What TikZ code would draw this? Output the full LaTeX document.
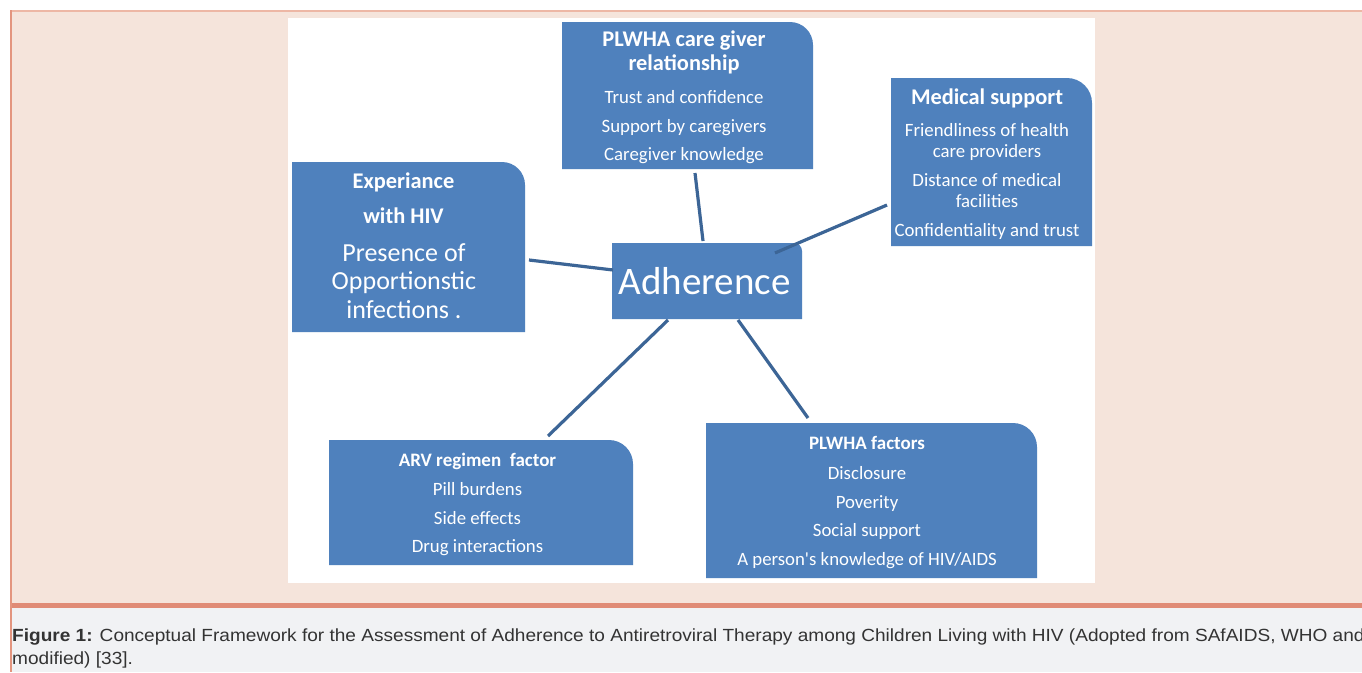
\documentclass[tikz,border=0pt]{standalone}
\usepackage{fontspec}
\usepackage{graphicx}
\setmainfont{Carlito}
\newfontfamily\capfont{Liberation Sans}
\usetikzlibrary{calc}
\definecolor{panelpink}{HTML}{F5E4DB}
\definecolor{panelline}{HTML}{EDB7A5}
\definecolor{leftline}{HTML}{E3957F}
\definecolor{bandorange}{HTML}{E08B76}
\definecolor{capgray}{HTML}{F1F2F4}
\definecolor{boxblue}{HTML}{4F81BD}
\definecolor{linkblue}{HTML}{3C6596}
\definecolor{captext}{HTML}{333333}
\newcommand\trbox[2]{%
  \fill[boxblue] (#1.south west) -- (#1.north west) -- ([xshift=-#2pt]#1.north east)
    arc[start angle=90,end angle=0,radius=#2pt] -- (#1.south east) -- cycle;}
\begin{document}
\begin{tikzpicture}[x=1pt,y=-1pt,
  holder/.style={inner sep=0pt,outer sep=0pt,minimum width=#1},
  txt/.style={text=white,inner sep=0pt,anchor=base,yshift=-1.5pt},
  ttl/.style={txt,font=\fontsize{22.4}{26}\selectfont\bfseries},
  sttl/.style={txt,font=\fontsize{19}{23}\selectfont\bfseries},
  bdy/.style={txt,font=\fontsize{18.8}{22}\selectfont},
  link/.style={draw=linkblue,line width=3.2pt},
  captxt/.style={anchor=base west,inner sep=0pt,text=captext,font=\capfont\fontsize{17.6}{20}\selectfont}]
\useasboundingbox (0,0) rectangle (1362,672);
\clip (0,0) rectangle (1362,672);
% page background
\fill[white] (0,0) rectangle (1362,672);
\fill[panelpink] (10,10) rectangle (1362,603);
\fill[capgray] (10,608) rectangle (1362,672);
\fill[bandorange] (10,603) rectangle (1362,608);
\draw[panelline,line width=1.5pt] (10,10.75) -- (1362,10.75);
\draw[leftline,line width=1.5pt] (10.75,10) -- (10.75,672);
\fill[white] (288,18) rectangle (1095,583);
% box holders
\node[holder=233pt,minimum height=170pt] (exp) at (408.5,247) {};
\node[holder=251pt,minimum height=147pt] (care) at (687.5,95.5) {};
\node[holder=201pt,minimum height=168pt] (med) at (991.5,162) {};
\node[holder=190pt,minimum height=76pt] (adh) at (707,281) {};
\node[holder=304pt,minimum height=125pt] (arv) at (481,502.5) {};
\node[holder=331pt,minimum height=155pt] (plw) at (871.5,500.5) {};
\trbox{exp}{23}
\trbox{care}{23}
\trbox{med}{25}
\trbox{adh}{8}
\trbox{arv}{24}
\trbox{plw}{24}
% connectors
\draw[link] ($(exp.east)+(4,13)$) -- ($(adh.west)+(1,-11)$);
\draw[link] ($(care.south)+(7.5,4)$) -- ($(adh.north)+(-4,-2)$);
\draw[link] ($(med.west)+(-4,43)$) -- ($(adh.north east)+(-27,10)$);
\draw[link] ($(arv.north)+(67,-4)$) -- ($(adh.south)+(-39,1)$);
\draw[link] ($(plw.north)+(-63.5,-5)$) -- ($(adh.south)+(31,1)$);
% texts: Experiance
\node[ttl] (exp1) at (403.5,187) {Experiance};
\node[ttl] (exp2) at (403.5,222) {with HIV};
\node[txt,font=\fontsize{26}{30}\selectfont] (exp3) at (404,260) {Presence of};
\node[txt,font=\fontsize{26}{30}\selectfont] (exp4) at (404,288) {Opportionstic};
\node[txt,font=\fontsize{26}{30}\selectfont] (exp5) at (404,317) {infections .};
% care giver
\node[ttl] (care1) at (684,45) {PLWHA care giver};
\node[ttl] (care2) at (684,69) {relationship};
\node[bdy] (care3) at (684,102) {Trust and confidence};
\node[bdy] (care4) at (684,130.5) {Support by caregivers};
\node[bdy] (care5) at (684,159) {Caregiver knowledge};
% medical
\node[ttl] (med1) at (987,103) {Medical support};
\node[bdy] (med2) at (987,135) {Friendliness of health};
\node[bdy] (med3) at (987,156) {care providers};
\node[bdy] (med4) at (987,185) {Distance of medical};
\node[bdy] (med5) at (987,205.5) {facilities};
\node[bdy] (med6) at (987,235) {Confidentiality and trust};
% adherence
\node[txt,font=\fontsize{39}{44}\selectfont] (adh1) at (704.5,292.5) {Adherence};
% ARV
\node[sttl] (arv1) at (477.5,465) {ARV regimen \ factor};
\node[bdy] (arv2) at (477.5,494) {Pill burdens};
\node[bdy] (arv3) at (477.5,523) {Side effects};
\node[bdy] (arv4) at (477.5,551) {Drug interactions};
% PLWHA factors
\node[sttl] (plw1) at (867,448) {PLWHA factors};
\node[bdy] (plw2) at (867,478) {Disclosure};
\node[bdy] (plw3) at (867,507) {Poverity};
\node[bdy] (plw4) at (867,535) {Social support};
\node[bdy] (plw5) at (867,564) {A person\textquotesingle s knowledge of HIV/AIDS};
% caption
\node[captxt] (cap1) at (12,641)
  {\scalebox{1.083}[1]{\textbf{Figure 1:} Conceptual Framework for the Assessment of Adherence to Antiretroviral Therapy among Children Living with HIV (Adopted from SAfAIDS, WHO and}};
\node[captxt] (cap2) at (12,664) {\scalebox{1.083}[1]{modified) [33].}};
\end{tikzpicture}
\end{document}
